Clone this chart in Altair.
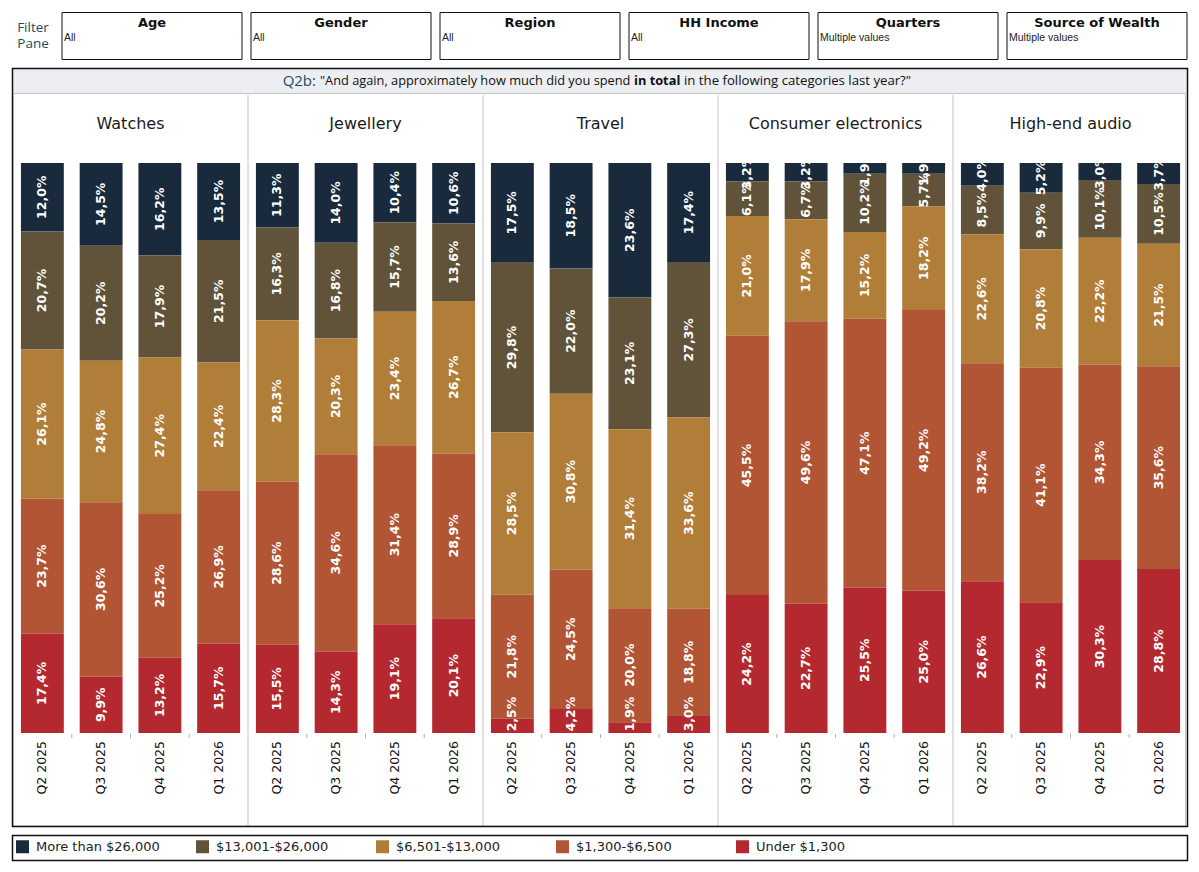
import altair as alt
import pandas as pd

# ---------------- data ----------------
categories = ["Watches", "Jewellery", "Travel", "Consumer electronics", "High-end audio"]
quarters = ["Q2 2025", "Q3 2025", "Q4 2025", "Q1 2026"]
bands = ["More than $26,000", "$13,001-$26,000", "$6,501-$13,000", "$1,300-$6,500", "Under $1,300"]
band_colors = ["#182a3b", "#615339", "#b17e3a", "#b15535", "#b3292f"]

# values per band (same order as `bands`), one number per quarter
watches = [[12.0, 14.5, 16.2, 13.5], [20.7, 20.2, 17.9, 21.5], [26.1, 24.8, 27.4, 22.4],
           [23.7, 30.6, 25.2, 26.9], [17.4, 9.9, 13.2, 15.7]]
jewellery = [[11.3, 14.0, 10.4, 10.6], [16.3, 16.8, 15.7, 13.6], [28.3, 20.3, 23.4, 26.7],
             [28.6, 34.6, 31.4, 28.9], [15.5, 14.3, 19.1, 20.1]]
travel = [[17.5, 18.5, 23.6, 17.4], [29.8, 22.0, 23.1, 27.3], [28.5, 30.8, 31.4, 33.6],
          [21.8, 24.5, 20.0, 18.8], [2.5, 4.2, 1.9, 3.0]]
consumer_electronics = [[3.2, 3.2, 1.9, 1.9], [6.1, 6.7, 10.2, 5.7], [21.0, 17.9, 15.2, 18.2],
                        [45.5, 49.6, 47.1, 49.2], [24.2, 22.7, 25.5, 25.0]]
high_end_audio = [[4.0, 5.2, 3.0, 3.7], [8.5, 9.9, 10.1, 10.5], [22.6, 20.8, 22.2, 21.5],
                  [38.2, 41.1, 34.3, 35.6], [26.6, 22.9, 30.3, 28.8]]
series = [watches, jewellery, travel, consumer_electronics, high_end_audio]

filter_names = ["Age", "Gender", "Region", "HH Income", "Quarters", "Source of Wealth"]
filter_values = ["All", "All", "All", "All", "Multiple values", "Multiple values"]

title_q = "Q2b:"
title_a = '"And again, approximately how much did you spend'
title_b = "in total"
title_c = 'in the following categories last year?"'

# ---------------- tables ----------------
rows = []
keys = []
for ci, cat in enumerate(categories):
    for qi, q in enumerate(quarters):
        key = f"{cat}|{q}"
        keys.append(key)
        for bi, b in enumerate(bands):
            rows.append({"cat": cat, "quarter": q, "key": key, "band": b,
                         "order": len(bands) - 1 - bi, "value": series[ci][bi][qi]})
df = pd.DataFrame(rows)
qdf = pd.DataFrame([{"key": f"{c}|{q}", "quarter": q} for c in categories for q in quarters])
cdf = pd.DataFrame({"cat": categories})
fdf = pd.DataFrame({"name": filter_names, "val": filter_values})
one = pd.DataFrame({"a": [0]})

X0, X1 = 5, 1180
Y_BOT, Y_TOP = 725, 155
FONT = "DejaVu Sans"


def xbar():
    return alt.Scale(type="band", domain=keys, range=[X0, X1], paddingInner=0.27, paddingOuter=0.135)


yscale = alt.Scale(domain=[0, 1], range=[Y_BOT, Y_TOP], nice=False)
plot_h = Y_BOT - Y_TOP

stacked = alt.Chart(df).transform_stack(
    stack="value", groupby=["key"], as_=["y0", "y1"], offset="normalize",
    sort=[alt.SortField("order", order="ascending")]
).transform_calculate(
    label="replace(format(datum.value, '.1f'), '.', ',') + '%'"
).transform_calculate(
    half=f"(length(datum.label) * 8 + 6) / 2 / {plot_h}"
).transform_calculate(
    mid="max((datum.y0 + datum.y1) / 2, datum.half)"
)

bars = stacked.mark_bar(strokeWidth=0).encode(
    x=alt.X("key:N", scale=xbar(), axis=None),
    y=alt.Y("y0:Q", scale=yscale, axis=None),
    y2="y1:Q",
    color=alt.Color("band:N", scale=alt.Scale(domain=bands, range=band_colors),
                    legend=alt.Legend(orient="none", legendX=8, legendY=832, direction="horizontal",
                                      columns=5, title=None, symbolType="square", symbolSize=169,
                                      symbolStrokeWidth=0, symbolOpacity=1, labelFontSize=13,
                                      labelFont=FONT, labelColor="#222222", columnPadding=36,
                                      gridAlign="all", labelOffset=7, padding=0)),
)

labels = stacked.mark_text(angle=270, align="center", baseline="middle", color="white",
                           font=FONT, fontWeight="bold", fontSize=12.5).encode(
    x=alt.X("key:N", scale=xbar(), axis=None),
    y=alt.Y("mid:Q", scale=yscale, axis=None),
    text="label:N",
)

xlabels = alt.Chart(qdf).mark_text(angle=270, align="right", baseline="middle", font=FONT,
                                   fontSize=12.5, color="#111111").encode(
    x=alt.X("key:N", scale=xbar(), axis=None),
    y=alt.value(733),
    text="quarter:N",
)

ticks = alt.Chart(qdf).transform_filter(alt.datum.quarter != quarters[0]).mark_rule(
    color="#b0b0b0", strokeWidth=1).encode(
    x=alt.X("key:N", scale=alt.Scale(type="band", domain=keys, range=[X0, X1], padding=0),
            axis=None, bandPosition=0),
    y=alt.value(726), y2=alt.value(730),
)

cscale = alt.Scale(type="band", domain=categories, range=[X0, X1], padding=0)
headers = alt.Chart(cdf).mark_text(font=FONT, fontSize=16, color="#1a1a1a", baseline="middle").encode(
    x=alt.X("cat:N", scale=cscale, axis=None),
    y=alt.value(116),
    text="cat:N",
)
separators = alt.Chart(cdf).transform_filter(alt.datum.cat != categories[0]).mark_rule(
    color="#c4c4c4", strokeWidth=1).encode(
    x=alt.X("cat:N", scale=cscale, axis=None, bandPosition=0),
    y=alt.value(87), y2=alt.value(818),
)

# frames
title_bar = alt.Chart(one).mark_rect(fill="#eceef2").encode(
    x=alt.value(5), x2=alt.value(1179), y=alt.value(61), y2=alt.value(85))
inner_box = alt.Chart(one).mark_rect(fill=None, stroke="#c4c4c4", strokeWidth=1).encode(
    x=alt.value(5), x2=alt.value(1177.5), y=alt.value(85.5), y2=alt.value(818))
main_box = alt.Chart(one).mark_rect(fill=None, stroke="#111111", strokeWidth=1.5).encode(
    x=alt.value(4.5), x2=alt.value(1179.5), y=alt.value(60.5), y2=alt.value(818.5))
legend_box = alt.Chart(one).mark_rect(fill=None, stroke="#111111", strokeWidth=1.5).encode(
    x=alt.value(4.5), x2=alt.value(1179.5), y=alt.value(827.5), y2=alt.value(852.5))

# title pieces
TF = "Open Sans"
t_q = alt.Chart(one).mark_text(text=title_q, font=TF, fontSize=15, color="#1d4a5c", align="right",
                               baseline="middle").encode(x=alt.value(308), y=alt.value(73))
t_a = alt.Chart(one).mark_text(text=title_a, font=TF, fontSize=12.8, color="#111111", align="left",
                               baseline="middle").encode(x=alt.value(312), y=alt.value(73))
t_b = alt.Chart(one).mark_text(text=title_b, font=TF, fontSize=12.8, fontWeight="bold", color="#111111",
                               align="left", baseline="middle").encode(x=alt.value(626), y=alt.value(73))
t_c = alt.Chart(one).mark_text(text=title_c, font=TF, fontSize=13.2, color="#111111", align="left",
                               baseline="middle").encode(x=alt.value(676), y=alt.value(73))

# filter pane
fscale = alt.Scale(type="band", domain=filter_names, range=[54, 1179], paddingInner=9 / 189, paddingOuter=0)
fboxes = alt.Chart(fdf).mark_bar(fill="white", stroke="#111111", strokeWidth=1).encode(
    x=alt.X("name:N", scale=fscale, axis=None, sort=None),
    y=alt.value(4.5), y2=alt.value(51.5),
)
ftitles = alt.Chart(fdf).mark_text(font=FONT, fontWeight="bold", fontSize=13, color="#111111",
                                   baseline="middle").encode(
    x=alt.X("name:N", scale=fscale, axis=None, sort=None),
    y=alt.value(14.5), text="name:N",
)
fvals = alt.Chart(fdf).mark_text(font="Liberation Sans", fontSize=10.5, color="#222222", align="left",
                                 baseline="middle", dx=2).encode(
    x=alt.X("name:N", scale=fscale, axis=None, sort=None, bandPosition=0),
    y=alt.value(29.5), text="val:N",
)
fpane = alt.Chart(one).mark_text(text=["Filter", "Pane"], font=TF, fontSize=13.5, color="#1a4d62",
                                 align="center", baseline="middle", lineHeight=16).encode(
    x=alt.value(25), y=alt.value(20))

chart = alt.layer(
    title_bar, inner_box, separators, ticks, bars, labels, xlabels, headers,
    main_box, legend_box, t_q, t_a, t_b, t_c, fboxes, ftitles, fvals, fpane
).resolve_scale(x="independent").properties(
    width=1183, height=856, autosize=alt.AutoSizeParams(type="none"), padding=0
).configure_view(stroke=None)

chart.save("out.html", embed_options={"renderer": "svg", "actions": False})
